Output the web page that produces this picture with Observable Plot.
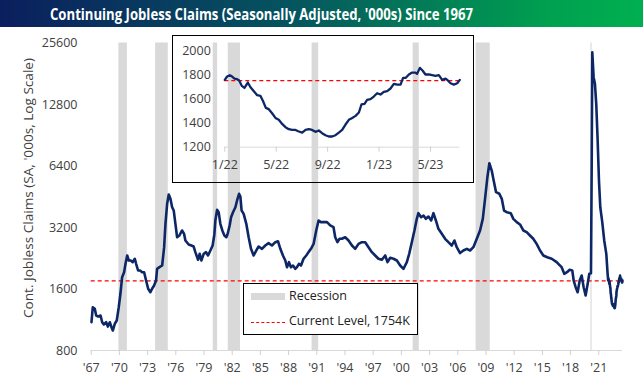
<!DOCTYPE html>
<html><head><meta charset="utf-8">
<script src="https://cdn.jsdelivr.net/npm/d3@7"></script>
<script src="https://cdn.jsdelivr.net/npm/@observablehq/plot@0.6"></script>
<style>
body{margin:0;background:#fff;font-family:"Open Sans",sans-serif;}
#wrap{position:relative;width:643px;height:384px;overflow:hidden;background:#fff;}
#title{position:absolute;left:0;top:0;width:643px;height:27px;background:linear-gradient(90deg,#0b1f5e 0%,#05545f 45%,#00a050 85%,#00b050 100%);}
#title span{position:absolute;left:50px;top:2.5px;color:#fff;font-weight:bold;font-size:16px;white-space:nowrap;transform-origin:0 0;}
#main{position:absolute;left:0;top:27px;}
#inset{position:absolute;left:172px;top:35px;}
#inset svg{outline:1px solid #000;outline-offset:-1px;background:#fff;}
#ylab{position:absolute;left:28px;top:188px;width:0;height:0;}
#ylab span{position:absolute;white-space:nowrap;font-size:12.5px;color:#404040;transform-origin:0 0;}
#legend{position:absolute;left:243px;top:283px;width:175px;height:52px;border:1px solid #000;box-sizing:border-box;background:#fff;font-size:12.5px;color:#222;}
#legend .sw{position:absolute;left:7px;top:9px;width:34px;height:7px;background:#d9d9d9;}
#legend .dl{position:absolute;left:7px;top:38px;width:34px;height:0;border-top:1.3px dashed #ff0000;}
#legend .t{position:absolute;left:45px;white-space:nowrap;}
</style>
</head><body>
<div id="wrap">
  <div id="title"><span id="ttext">Continuing Jobless Claims (Seasonally Adjusted, '000s) Since 1967</span></div>
  <div id="main"></div>
  <div id="ylab"><span id="ytext">Cont. Jobless Claims (SA, '000s, Log Scale)</span></div>
  <div id="inset"></div>
  <div id="legend">
    <div class="sw"></div><div class="t" style="top:3px">Recession</div>
    <div class="dl"></div><div class="t" style="top:28px">Current Level, 1754K</div>
  </div>
</div>
<script>
// ---- data ----
const currentLevel = 1754;
const mainYears = [1967.03,1967.17,1967.38,1967.53,1967.74,1967.99,1968.17,1968.34,1968.59,1968.77,1968.98,1969.16,1969.30,1969.51,1969.72,1969.93,
1970.11,1970.29,1970.50,1970.65,1970.83,1971.00,1971.21,1971.42,1971.64,1971.78,1971.99,1972.20,1972.42,1972.63,1972.84,1973.06,1973.30,1973.48,1973.69,1973.90,
1974.01,1974.26,1974.55,1974.76,1974.90,1975.08,1975.25,1975.43,1975.61,1975.78,1975.96,1976.14,1976.38,1976.67,1976.88,1977.02,1977.37,1977.66,1977.90,
1978.08,1978.37,1978.54,1978.72,1978.97,1979.22,1979.43,1979.68,1979.92,1980.10,1980.21,1980.39,1980.56,1980.74,1980.95,1981.17,1981.38,1981.52,1981.73,1981.88,
1982.09,1982.34,1982.52,1982.73,1982.87,1983.00,1983.22,1983.50,1983.75,1984.00,1984.28,1984.57,1984.81,1985.17,1985.52,1985.87,1986.23,1986.59,1986.87,
1987.12,1987.40,1987.65,1987.83,1988.04,1988.25,1988.47,1988.71,1988.89,1989.10,1989.32,1989.59,1989.88,1990.12,1990.38,1990.66,1990.94,1991.19,1991.44,1991.72,
1992.08,1992.43,1992.78,1992.96,1993.20,1993.42,1993.67,1994.02,1994.38,1994.74,1995.09,1995.44,1995.80,1996.15,1996.50,1996.86,1997.21,1997.56,1997.92,
1998.28,1998.52,1998.81,1999.16,1999.52,1999.87,2000.22,2000.40,2000.58,2000.83,2001.11,2001.39,2001.64,2001.81,2002.10,2002.35,2002.60,2002.88,2003.17,
2003.41,2003.67,2003.94,2004.30,2004.65,2005.00,2005.36,2005.64,2005.89,2006.24,2006.60,2006.96,2007.31,2007.66,2008.02,2008.37,2008.66,2008.90,2009.15,
2009.36,2009.61,2009.78,2010.07,2010.42,2010.68,2010.92,2011.21,2011.63,2011.91,2012.27,2012.62,2012.97,2013.33,2013.68,2014.03,2014.39,2014.75,2015.10,
2015.52,2015.99,2016.52,2016.80,2017.05,2017.33,2017.62,2017.90,2018.18,2018.33,2018.54,2018.75,2018.97,2019.18,2019.39,2019.60,2019.82,2019.99,2020.17,
2020.24,2020.31,2020.45,2020.59,2020.73,2020.88,2021.02,2021.16,2021.37,2021.58,2021.80,2021.94];
const mainClaims = [1100,1303,1280,1187,1174,1187,1100,1073,1100,1048,1100,1040,1002,1081,1122,1303,
1516,1828,1934,2126,2334,2206,2206,2165,2250,2126,1971,1971,1934,1934,1760,1604,1543,1604,1664,1760,
2008,2046,2085,2563,3336,4179,4643,4420,4022,3875,3336,2868,2924,3094,2980,2764,2642,2612,2583,
2424,2224,2378,2206,2378,2424,2334,2470,2612,2950,3463,3904,3803,3336,3094,2924,2868,2980,3275,3594,
3803,4022,4339,4679,4539,3875,3733,3336,2868,2517,2334,2470,2583,2517,2612,2682,2612,2712,2741,
2517,2334,2206,2046,2165,2046,2085,2008,2046,2126,2085,2250,2334,2424,2517,2660,3094,3463,3398,3398,
3398,3275,3211,2868,2712,2818,2818,2868,2764,2612,2517,2660,2712,2712,2563,2424,2334,2250,2224,
2334,2165,2276,2250,2206,2085,2008,2085,2165,2378,2712,3094,3528,3761,3594,3663,3528,3622,3463,
3761,3463,3155,2980,2818,2712,2612,2764,2563,2400,2470,2517,2470,2563,2818,3094,3528,4420,5641,
6606,6082,5541,4764,4679,4420,3875,3803,3761,3528,3398,3311,3094,3035,2924,2818,2660,2470,2334,
2290,2250,2165,2100,2046,1899,1934,1986,1971,1760,1633,1543,1760,1862,1633,1487,1696,1899,1912,
5861,23070,17416,16160,12900,8530,5434,4022,3398,2764,2378,1899];

// inset (months since Jan 2022)
const insetMonths = [0.00,0.18,0.39,0.57,0.75,0.96,1.12,1.32,1.53,1.79,2.00,2.26,2.52,2.77,2.98,3.19,3.42,3.68,3.94,4.20,4.46,4.72,4.98,5.24,5.50,5.71,
6.02,6.28,6.54,6.79,7.05,7.31,7.57,7.83,8.09,8.35,8.61,8.87,9.13,9.39,9.65,9.91,10.17,10.43,10.63,10.87,11.07,11.33,11.59,11.85,12.11,12.37,12.63,12.89,
13.15,13.41,13.67,13.87,14.08,14.32,14.57,14.83,14.96,15.17,15.38,15.61,15.87,16.13,16.39,16.65,16.91,17.17,17.35,17.56,17.82,18.08,18.28];
const insetClaims = [1761,1789,1800,1789,1772,1767,1756,1711,1694,1739,1700,1667,1633,1628,1583,1528,1517,1483,1444,1428,1394,1367,1350,1344,1344,1333,
1322,1344,1350,1344,1328,1339,1317,1300,1289,1289,1300,1322,1344,1389,1428,1444,1461,1489,1556,1561,1594,1600,1622,1650,1639,1661,1667,1689,
1728,1722,1722,1778,1778,1806,1822,1822,1811,1861,1839,1806,1806,1800,1794,1800,1761,1772,1756,1733,1722,1733,1761];

const recStart = [1969.95,1973.85,1979.98,1981.58,1990.50,2001.25,2007.95,2020.17];
const recEnd   = [1970.85,1975.20,1980.45,1982.88,1991.20,2001.90,2009.45,2020.29];

const yTicks = [800,1600,3200,6400,12800,25600];
const xTickYears = [1967,1970,1973,1976,1979,1982,1985,1988,1991,1994,1997,2000,2003,2006,2009,2012,2015,2018,2021];
const xTickLabels = ["'67","'70","'73","'76","'79","'82","'85","'88","'91","'94","'97","'00","'03","'06","'09","'12","'15","'18","'21"];
const insetYTicks = [1200,1400,1600,1800,2000];
const insetXTicks = [0,4,8,12,16];
const insetXLabels = ["1/22","5/22","9/22","1/23","5/23"];

// ---- tables ----
const mainData = mainYears.map((y,i)=>({year:y, value:mainClaims[i]}))
  .concat(insetMonths.map((m,i)=>({year:2022+m/12, value:insetClaims[i]})));
const insetData = insetMonths.map((m,i)=>({m, v:insetClaims[i]}));
const recessions = recStart.map((s,i)=>({start:s, end:recEnd[i]}));
const endYear = 2022 + insetMonths[insetMonths.length-1]/12;

const NAVY = "#0d2766";
const TXT = "#404040";
const textStyle = {fontFamily:"'Open Sans', sans-serif", fontSize:"12.5px", color:TXT, background:"transparent", overflow:"visible"};

const main = Plot.plot({
  width:643, height:357,
  marginLeft:90.7, marginRight:21, marginTop:15.5, marginBottom:34,
  style:textStyle,
  x:{domain:[1967,endYear], label:null},
  y:{type:"log", domain:[800,25600], label:null, axis:null},
  marks:[
    Plot.rect(recessions,{x1:"start", x2:"end", fill:"#d9d9d9"}),
    Plot.ruleY([yTicks[0]],{stroke:"#d9d9d9", strokeWidth:1}),
    Plot.ruleY([currentLevel],{stroke:"#ff0000", strokeWidth:1.3, strokeDasharray:"4,3"}),
    Plot.lineY(mainData,{x:"year", y:"value", stroke:NAVY, strokeWidth:2.6, strokeLinejoin:"round"}),
    Plot.text(yTicks,{y:d=>d, text:d=>String(d), frameAnchor:"left", textAnchor:"end", dx:-13.7, fill:TXT, fontSize:12.5}),
    Plot.axisX({ticks:xTickYears, tickFormat:d=>xTickLabels[xTickYears.indexOf(d)], tickSize:5, tickPadding:8, stroke:"#d0d0d0", label:null})
  ]
});
document.getElementById("main").appendChild(main);

const inset = Plot.plot({
  width:302, height:148,
  marginLeft:52.3, marginRight:14.7, marginTop:15.7, marginBottom:36.3,
  style:textStyle,
  x:{domain:[0, insetMonths[insetMonths.length-1]], label:null},
  y:{domain:[1200,2000], label:null, axis:null},
  marks:[
    Plot.ruleY([1200],{stroke:"#d9d9d9", strokeWidth:1}),
    Plot.ruleY([currentLevel],{stroke:"#ff0000", strokeWidth:1.3, strokeDasharray:"4,3"}),
    Plot.lineY(insetData,{x:"m", y:"v", stroke:NAVY, strokeWidth:2.3, strokeLinejoin:"round"}),
    Plot.text(insetYTicks,{y:d=>d, text:d=>String(d), frameAnchor:"left", textAnchor:"end", dx:-14, fill:TXT, fontSize:12.5}),
    Plot.axisX({ticks:insetXTicks, tickFormat:d=>insetXLabels[insetXTicks.indexOf(d)], tickSize:5, tickPadding:8, stroke:"#d0d0d0", label:null})
  ]
});
document.getElementById("inset").appendChild(inset);

// fit title and y label widths to the reference
const tt = document.getElementById("ttext");
tt.style.transform = `scaleX(${423/tt.getBoundingClientRect().width})`;
const yt = document.getElementById("ytext");
const yw = yt.getBoundingClientRect().width, yh = yt.getBoundingClientRect().height;
const ys = 260/yw;
yt.style.transform = `rotate(-90deg) translate(${-yw*ys/2}px, ${-yh/2}px) scaleX(${ys})`;
</script>
</body></html>
